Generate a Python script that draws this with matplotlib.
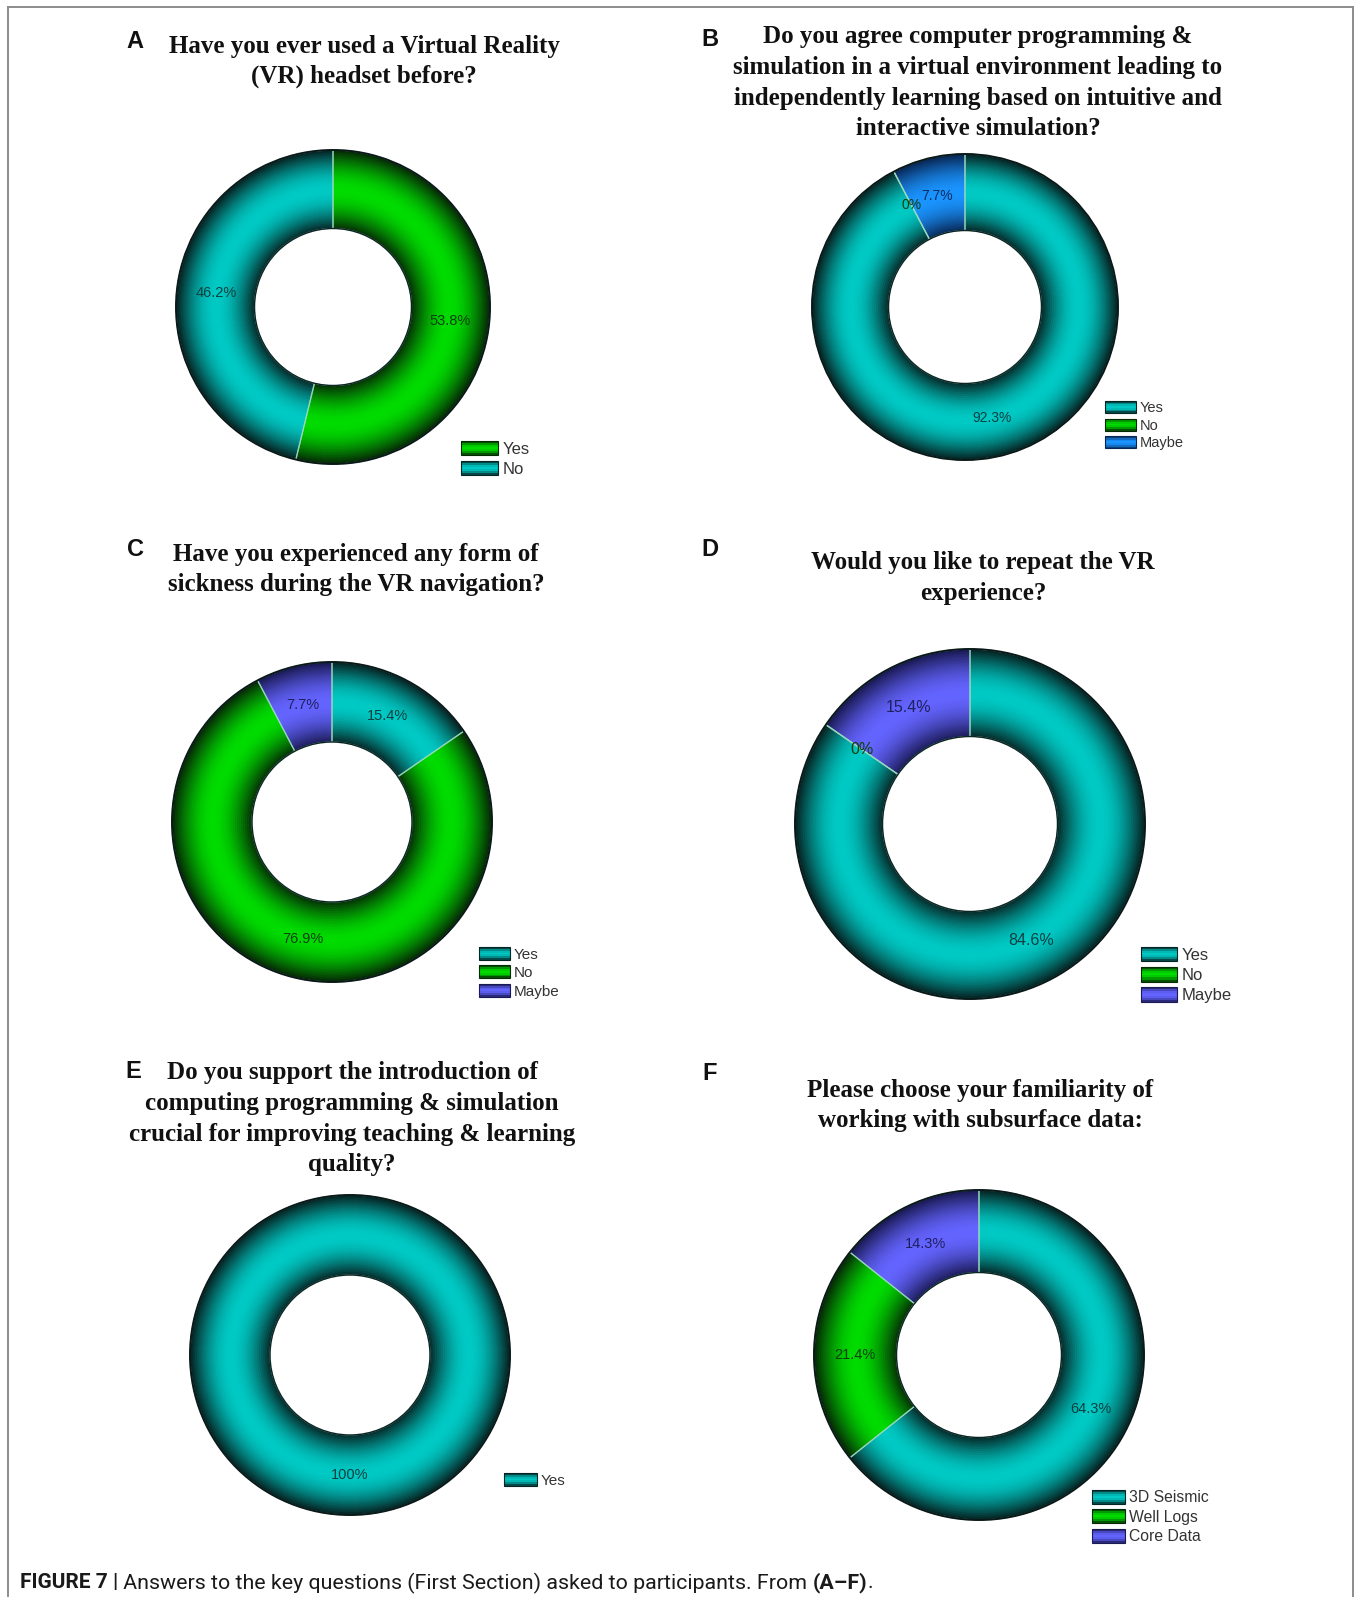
import numpy as np
import matplotlib
matplotlib.use("Agg")
import matplotlib.pyplot as plt
from matplotlib.patches import Rectangle, Circle, Patch
from matplotlib.legend_handler import HandlerBase
from matplotlib.lines import Line2D

W, H = 1356, 1597

# ---- data ----
a_title = "Have you ever used a Virtual Reality\n(VR) headset before?"
a_labels = ["Yes", "No"]
a_values = [53.8, 46.2]
a_colors = ["green", "teal"]

b_title = ("Do you agree computer programming &\n"
           "simulation in a virtual environment leading to\n"
           "independently learning based on intuitive and\n"
           "interactive simulation?")
b_labels = ["Yes", "No", "Maybe"]
b_values = [92.3, 0, 7.7]
b_colors = ["teal", "green", "blue"]

c_title = "Have you experienced any form of\nsickness during the VR navigation?"
c_labels = ["Yes", "No", "Maybe"]
c_values = [15.4, 76.9, 7.7]
c_colors = ["teal", "green", "purple"]

d_title = "Would you like to repeat the VR\nexperience?"
d_labels = ["Yes", "No", "Maybe"]
d_values = [84.6, 0, 15.4]
d_colors = ["teal", "green", "purple"]

e_title = ("Do you support the introduction of\n"
           "computing programming & simulation\n"
           "crucial for improving teaching & learning\n"
           "quality?")
e_labels = ["Yes"]
e_values = [100]
e_colors = ["teal"]

f_title = "Please choose your familiarity of\nworking with subsurface data:"
f_labels = ["3D Seismic", "Well Logs", "Core Data"]
f_values = [64.3, 21.4, 14.3]
f_colors = ["teal", "green", "purple"]

caption_bold = "FIGURE 7 |"
caption_text = " Answers to the key questions (First Section) asked to participants. From "
caption_ref = "(A\u2013F)"

# bright, dark, label text
palette = {
    "teal": ((0.0, 0.79, 0.77), (0.02, 0.14, 0.14), "#0b4040"),
    "green": ((0.0, 0.86, 0.0), (0.02, 0.16, 0.02), "#0b400b"),
    "blue": ((0.10, 0.58, 1.0), (0.03, 0.15, 0.33), "#0c2c60"),
    "purple": ((0.39, 0.39, 1.0), (0.10, 0.10, 0.33), "#20205e"),
}


def shade(t):
    return np.sin(np.pi * t) ** 1.0


def mix(dark, bright, f):
    d = np.array(dark)
    return tuple(d + (np.array(bright) - d) * f)


class SwatchHandler(HandlerBase):
    def create_artists(self, legend, orig, xd, yd, w, h, fs, trans):
        bright = orig.get_facecolor()[:3]
        dark = orig.get_edgecolor()[:3]
        x0, y0 = -xd, -yd
        arts = []
        nb = 7
        for j in range(nb):
            f = shade((j + 0.5) / nb)
            arts.append(Rectangle((x0, y0 + j * h / nb), w, h / nb * 1.05,
                                  facecolor=mix(dark, bright, f), lw=0, transform=trans))
        arts.append(Rectangle((x0, y0), w, h, facecolor="none", edgecolor=dark,
                              lw=0.8, transform=trans))
        return arts


panels = [
    dict(letter="A", title=a_title, labels=a_labels, values=a_values, cols=a_colors,
         center=(333, 307), R=157, title_xy=(364, 46), letter_xy=(135, 41),
         leg_xy=(461, 442), leg_fs=12, sw=(37, 16), pitch=23, pct_fs=10.5),
    dict(letter="B", title=b_title, labels=b_labels, values=b_values, cols=b_colors,
         center=(965, 307), R=153, title_xy=(978, 37), letter_xy=(710, 40),
         leg_xy=(1105, 402), leg_fs=10.5, sw=(31, 13), pitch=20.5, pct_fs=10),
    dict(letter="C", title=c_title, labels=c_labels, values=c_values, cols=c_colors,
         center=(332, 822), R=160, title_xy=(356, 554), letter_xy=(135, 550),
         leg_xy=(479, 948), leg_fs=11, sw=(31, 14), pitch=21.5, pct_fs=10.5),
    dict(letter="D", title=d_title, labels=d_labels, values=d_values, cols=d_colors,
         center=(970, 824), R=175, title_xy=(983, 563), letter_xy=(710, 550),
         leg_xy=(1141, 948), leg_fs=12, sw=(36, 16), pitch=23.5, pct_fs=11.5),
    dict(letter="E", title=e_title, labels=e_labels, values=e_values, cols=e_colors,
         center=(350, 1355), R=160, title_xy=(352, 1073), letter_xy=(133, 1072),
         leg_xy=(504, 1474), leg_fs=11, sw=(33, 14), pitch=22, pct_fs=10.5),
    dict(letter="F", title=f_title, labels=f_labels, values=f_values, cols=f_colors,
         center=(979, 1355), R=165, title_xy=(980, 1090), letter_xy=(710, 1073),
         leg_xy=(1092, 1491), leg_fs=11.3, sw=(33, 15), pitch=22.5, pct_fs=10.5),
]

HOLE = 0.5
NLAYERS = 40
TITLE_PITCH = 30.5

fig = plt.figure(figsize=(W / 100, H / 100), dpi=100)
fig.patch.set_facecolor("white")


def fx(x):
    return x / W


def fy(y):
    return 1 - y / H


for p in panels:
    cx, cy = p["center"]
    R = p["R"]
    ax = fig.add_axes([fx(cx - R - 3), fy(cy + R + 3), (2 * R + 6) / W, (2 * R + 6) / H])
    vals = p["values"]
    bright = [palette[c][0] for c in p["cols"]]
    dark = [palette[c][1] for c in p["cols"]]
    dw = (1 - HOLE) / NLAYERS
    # ring built from thin layers so it gets the tube shading
    for k in range(NLAYERS):
        f = shade((k + 0.5) / NLAYERS)
        fc = [mix(d, b, f) for d, b in zip(dark, bright)]
        r_out = HOLE + dw * (k + 1)
        width = min(dw * 1.4, r_out - HOLE)
        ax.pie(vals, radius=r_out, colors=fc, startangle=90, counterclock=False,
               wedgeprops=dict(width=width, linewidth=0))
    # slice borders and percentage labels
    wedges, _, pcts = ax.pie(vals, radius=1, colors=["none"] * len(vals), startangle=90,
                             counterclock=False,
                             autopct=lambda v: f"{round(v, 1):g}%",
                             pctdistance=(1 + HOLE) / 2,
                             wedgeprops=dict(width=1 - HOLE, linewidth=0.9,
                                             edgecolor=(0.6, 0.85, 0.75, 0.8)))
    for t, c in zip(pcts, p["cols"]):
        t.set_color(palette[c][2])
        t.set_fontsize(p["pct_fs"])
        t.set_family("Liberation Sans")
    ax.add_patch(Circle((0, 0), 1, fill=False, edgecolor="#0a1818", lw=1.4))
    ax.add_patch(Circle((0, 0), HOLE, fill=False, edgecolor="#0e2424", lw=1.0))
    ax.set_xlim(-1 - 3 / R, 1 + 3 / R)
    ax.set_ylim(-1 - 3 / R, 1 + 3 / R)
    ax.set_aspect("equal")
    ax.axis("off")

    # title
    tx, ty = p["title_xy"]
    for i, line in enumerate(p["title"].split("\n")):
        fig.text(fx(tx), fy(ty + i * TITLE_PITCH), line, ha="center", va="center",
                 fontsize=18, fontweight="bold", family="Liberation Serif", color="#111111")
    lx, ly = p["letter_xy"]
    fig.text(fx(lx), fy(ly), p["letter"], ha="center", va="center", fontsize=17,
             fontweight="bold", family="Liberation Sans", color="#111111")

    # legend
    fs_px = p["leg_fs"] * 100 / 72
    sw_w, sw_h = p["sw"]
    row_h = max(sw_h, 1.16 * fs_px)
    handles = [Patch(facecolor=b, edgecolor=d) for b, d in zip(bright, dark)]
    lx, ly = p["leg_xy"]
    fig.legend(handles, p["labels"], loc="upper left", bbox_to_anchor=(fx(lx), fy(ly - 1)),
               frameon=False, borderpad=0, borderaxespad=0,
               prop=dict(family="Liberation Sans", size=p["leg_fs"]),
               labelcolor="#333333",
               handlelength=sw_w / fs_px, handleheight=sw_h / fs_px,
               handletextpad=0.25, labelspacing=max(0, (p["pitch"] - row_h) / fs_px),
               handler_map={Patch: SwatchHandler()})

# frame around the panels
frame_kw = dict(transform=fig.transFigure, color="#8c8c8c", lw=1.4)
fig.add_artist(Line2D([fx(8), fx(8)], [fy(7), 0], **frame_kw))
fig.add_artist(Line2D([fx(1353), fx(1353)], [fy(7), 0], **frame_kw))
fig.add_artist(Line2D([fx(8), fx(1353)], [fy(7), fy(7)], **frame_kw))

# caption with mixed weights
renderer = fig.canvas.get_renderer()
x = fx(20)
cap_y = fy(1583)
parts = [(caption_bold, "bold", 15), (caption_text, "normal", 15.4),
         (caption_ref, "bold", 15.4), (".", "normal", 15.4)]
for s, wt, fs in parts:
    t = fig.text(x, cap_y, s, ha="left", va="center", fontsize=fs, fontweight=wt,
                 family="Roboto", color="#1a1a1a")
    bb = t.get_window_extent(renderer)
    x = bb.x1 / W

fig.savefig("out.png", dpi=100, facecolor="white")
